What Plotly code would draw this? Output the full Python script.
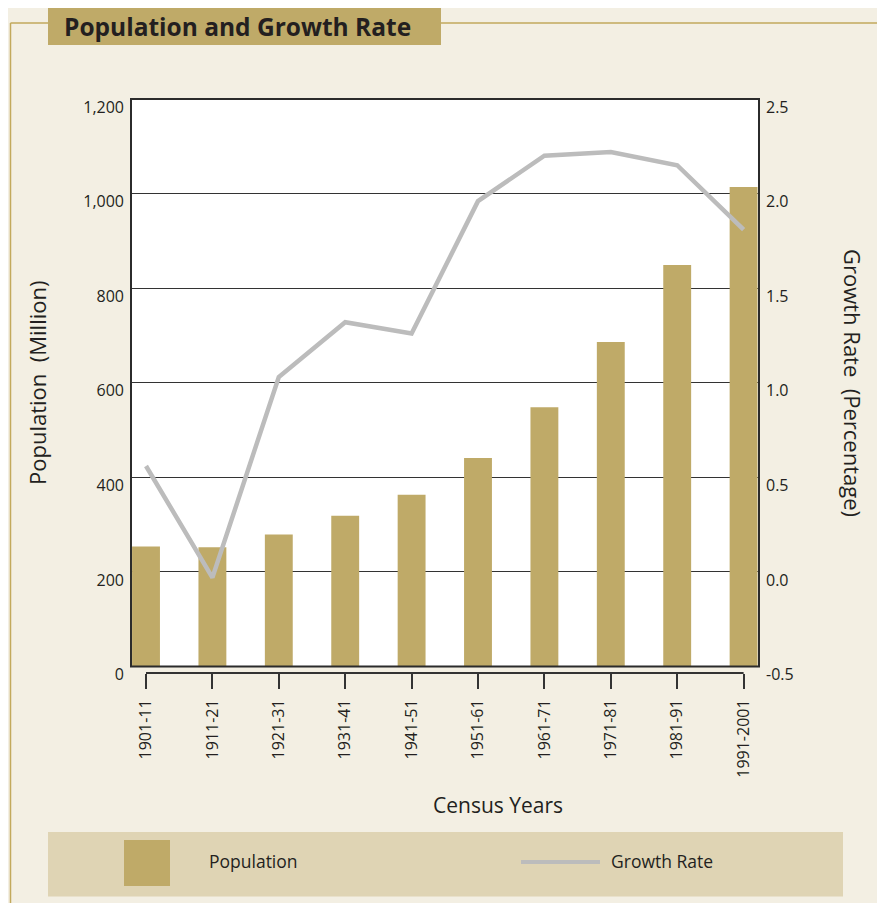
import plotly.graph_objects as go

# ---- data ----
census_years = ["1901-11", "1911-21", "1921-31", "1931-41", "1941-51",
                "1951-61", "1961-71", "1971-81", "1981-91", "1991-2001"]
population_million = [254, 252, 279, 319, 363, 441, 548, 686, 849, 1014]
growth_rate_pct = [0.56, -0.03, 1.03, 1.32, 1.26, 1.96, 2.20, 2.22, 2.15, 1.81]
pop_ticks = [0, 200, 400, 600, 800, 1000, 1200]
rate_ticks = [-0.5, 0.0, 0.5, 1.0, 1.5, 2.0, 2.5]
rate_tick_labels = ["-0.5", "0.0", "0.5", "1.0", "1.5", "2.0", "2.5"]

# ---- style ----
OFF = 8  # page body margin
W, H = 877, 895
ML, MR, MT, MB = 123, 126, 91, 100
PW, PH = W - ML - MR, H - MT - MB
BAR = "#bfaa68"
LINE = "#bcbcbc"
CREAM = "#f3efe3"
LEGBG = "#dfd4b4"
GOLD = "#c2a95c"
INK = "#231f20"
TICKFONT = dict(family="Open Sans, sans-serif", size=16, color=INK)
TITLEFONT = dict(family="Open Sans, sans-serif", size=22, color=INK)


def px(x):
    return (x - OFF - ML) / PW


def py(y):
    return (H - MB - (y - OFF)) / PH


plot_bottom = py(666.5)
axis_line_y = py(673)

fig = go.Figure()
fig.add_trace(go.Bar(x=census_years, y=population_million, name="Population",
                     marker=dict(color=BAR, line=dict(width=0)), width=0.42,
                     yaxis="y"))
fig.add_trace(go.Scatter(x=census_years, y=growth_rate_pct, name="Growth Rate",
                         mode="lines", line=dict(color=LINE, width=4.5),
                         yaxis="y2"))

shapes = []
# panel border
shapes.append(dict(type="line", xref="paper", yref="paper", x0=px(10.5), x1=px(10.5),
                   y0=py(23), y1=py(905), line=dict(color=GOLD, width=1.5)))
shapes.append(dict(type="line", xref="paper", yref="paper", x0=px(10.5), x1=px(879),
                   y0=py(23), y1=py(23), line=dict(color=GOLD, width=1.5)))
shapes.append(dict(type="line", xref="paper", yref="paper", x0=px(879), x1=px(879),
                   y0=py(23), y1=py(905), line=dict(color=GOLD, width=1.5)))
# title box
shapes.append(dict(type="rect", xref="paper", yref="paper", x0=px(48), x1=px(441),
                   y0=py(45), y1=py(8), fillcolor=BAR, line=dict(width=0)))
# legend box
shapes.append(dict(type="rect", xref="paper", yref="paper", x0=px(48), x1=px(843),
                   y0=py(896.5), y1=py(832), fillcolor=LEGBG, line=dict(width=0)))
shapes.append(dict(type="rect", xref="paper", yref="paper", x0=px(124), x1=px(170),
                   y0=py(886), y1=py(840), fillcolor=BAR, line=dict(width=0)))
shapes.append(dict(type="line", xref="paper", yref="paper", x0=px(521), x1=px(600),
                   y0=py(862), y1=py(862), line=dict(color=LINE, width=4)))
# plot frame
shapes.append(dict(type="rect", xref="x domain", yref="y domain", x0=0, x1=1, y0=0, y1=1,
                   line=dict(color="#2b2b2b", width=2), layer="above"))
# category axis line under the frame
shapes.append(dict(type="line", xref="x", yref="paper", x0=census_years[0], x1=census_years[-1],
                   y0=axis_line_y, y1=axis_line_y, line=dict(color="#333333", width=2)))

annotations = [
    dict(text="<b>Population and Growth Rate</b>", xref="paper", yref="paper",
         x=px(62), y=py(27), xanchor="left", yanchor="middle", showarrow=False,
         font=dict(family="Open Sans, sans-serif", size=24.5, color=INK)),
    dict(text="Population  (Million)", xref="paper", yref="paper", x=px(37), y=py(383),
         textangle=-90, showarrow=False, font=TITLEFONT, xanchor="center", yanchor="middle"),
    dict(text="Growth Rate  (Percentage)", xref="paper", yref="paper", x=px(853), y=py(383),
         textangle=90, showarrow=False, font=TITLEFONT, xanchor="center", yanchor="middle"),
    dict(text="Census Years", xref="paper", yref="paper", x=px(498), y=py(805),
         showarrow=False, font=dict(family="Open Sans, sans-serif", size=21, color=INK),
         xanchor="center", yanchor="middle"),
    dict(text="Population", xref="paper", yref="paper", x=px(207), y=py(861),
         xanchor="left", yanchor="middle", showarrow=False,
         font=dict(family="Open Sans, sans-serif", size=17.5, color=INK)),
    dict(text="Growth Rate", xref="paper", yref="paper", x=px(609), y=py(861),
         xanchor="left", yanchor="middle", showarrow=False,
         font=dict(family="Open Sans, sans-serif", size=17.5, color=INK)),
]

fig.update_layout(
    width=W, height=H,
    margin=dict(l=ML, r=MR, t=MT, b=MB, pad=0),
    paper_bgcolor=CREAM, plot_bgcolor="white",
    showlegend=False, bargap=0.5,
    shapes=shapes, annotations=annotations,
    xaxis=dict(type="category", range=[-0.226, 9.232], anchor="free", position=axis_line_y,
               showline=False, showgrid=False, zeroline=False,
               ticks="outside", ticklen=15, tickwidth=2, tickcolor="#333333",
               tickangle=-90, tickfont=TICKFONT, ticklabelstandoff=4),
    yaxis=dict(domain=[plot_bottom, 1], range=[0, 1200], tickvals=pop_ticks,
               tickformat=",", showgrid=True, gridcolor="#333333", gridwidth=1,
               zeroline=False, showline=False, ticks="", tickfont=TICKFONT,
               ticklabelstandoff=6, ticklabelshift=8),
    yaxis2=dict(overlaying="y", side="right", range=[-0.5, 2.5], tickvals=rate_ticks,
                ticktext=rate_tick_labels, showgrid=False, zeroline=False, showline=False,
                ticks="", tickfont=TICKFONT, ticklabelstandoff=6, ticklabelshift=8),
)

fig.write_html("out.html")
